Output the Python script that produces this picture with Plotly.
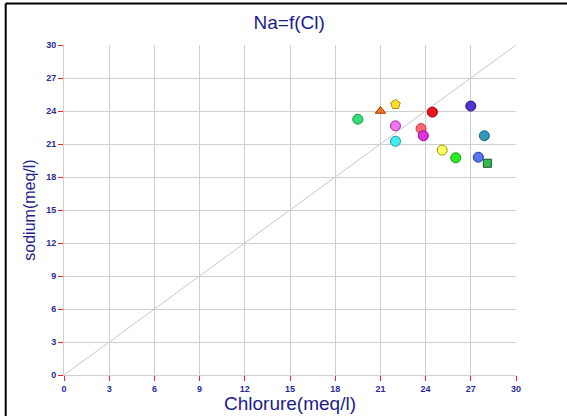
import plotly.graph_objects as go

# Data
chlorure = [19.5, 21.0, 22.0, 22.0, 22.0, 24.45, 27.0, 23.7, 23.85, 27.9, 25.1, 26.0, 27.5, 28.1]
sodium   = [23.25, 24.0, 24.6, 22.65, 21.25, 23.9, 24.45, 22.4, 21.75, 21.75, 20.45, 19.75, 19.8, 19.25]
symbols  = ["circle", "triangle-up", "pentagon", "circle", "circle", "circle", "circle",
            "circle", "circle", "circle", "circle", "circle", "circle", "square"]
fills    = ["#33dd77", "#ee7722", "#ffdd33", "#ee77ee", "#44eeee", "#ee1122", "#5533cc",
            "#ff6677", "#dd33dd", "#3399bb", "#ffff66", "#22ee22", "#5577ee", "#33bb55"]
edges    = ["#119944", "#aa3300", "#aa8800", "#aa22aa", "#119999", "#990000", "#221188",
            "#cc3344", "#990099", "#116688", "#999900", "#119911", "#2233aa", "#115522"]
sizes    = [10, 9, 10, 10, 10, 10, 10, 10, 10, 10, 10, 10, 10, 8]
ticks = [0, 3, 6, 9, 12, 15, 18, 21, 24, 27, 30]

navy = "#1c1c8c"
tick_navy = "#2a2a9a"
fig = go.Figure()
# 1:1 line
fig.add_trace(go.Scatter(x=[0, 30], y=[0, 30], mode="lines",
                         line=dict(color="#c8c8c8", width=1), hoverinfo="skip"))
fig.add_trace(go.Scatter(x=chlorure, y=sodium, mode="markers",
                         marker=dict(symbol=symbols, color=fills, size=sizes, opacity=1,
                                     line=dict(color=edges, width=1))))

axis_common = dict(range=[0, 30], tickvals=ticks, ticktext=["<b>%d</b>" % t for t in ticks],
                   showgrid=True, gridcolor="#cfcfcf", gridwidth=1,
                   showline=True, linecolor="#cfcfcf", linewidth=1,
                   ticks="outside", tickcolor="#ee2222", ticklen=5, tickwidth=1,
                   tickfont=dict(family="Liberation Sans, Arial", size=9, color=tick_navy),
                   zeroline=False, mirror=False, automargin=False)

fig.update_layout(
    width=567, height=416,
    margin=dict(l=64, r=51, t=45, b=41),
    paper_bgcolor="white", plot_bgcolor="white",
    showlegend=False,
    title=dict(text="Na=f(Cl)", x=0.51, xanchor="center", y=0.947, yanchor="middle",
               font=dict(family="Liberation Sans, Arial", size=19, color=navy)),
    xaxis=dict(**axis_common),
    yaxis=dict(**axis_common,
               title=dict(text="sodium(meq/l)", standoff=6,
                          font=dict(family="Liberation Sans, Arial", size=16, color=navy))),
    annotations=[
        dict(text="Chlorure(meq/l)", xref="paper", yref="paper", x=0.5, y=-0.087,
             xanchor="center", yanchor="middle", showarrow=False,
             font=dict(family="Liberation Sans, Arial", size=19, color=navy)),
    ],
    shapes=[
        dict(type="line", xref="paper", yref="paper", x0=-0.129, x1=1.2, y0=1.126, y1=1.126,
             line=dict(color="black", width=2)),
        dict(type="line", xref="paper", yref="paper", x0=-0.129, x1=-0.129, y0=1.126, y1=-0.13,
             line=dict(color="black", width=2)),
    ],
)

fig.write_html("out.html")
